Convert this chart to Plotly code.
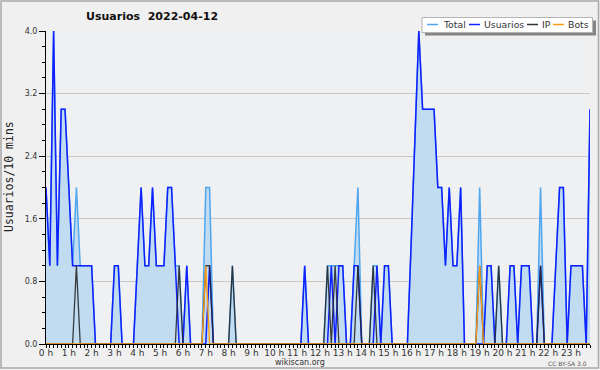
import plotly.graph_objects as go

# ---- data (one value per 10 minutes, 144 slots) ----
usuarios = [2,1,4,1,3,3,2,1,1,1,1,1,1,0,0,0,0,0,1,1,
            0,0,0,0,1,2,1,1,2,1,1,1,2,2,1,0,0,1,0,0,
            0,0,0,1,0,0,0,0,0,0,0,0,0,0,0,0,0,0,0,0,
            0,0,0,0,0,0,0,0,1,0,0,0,0,0,0,1,0,1,1,0,
            0,1,1,0,0,0,0,1,0,1,1,0,0,0,0,0,1.3,2.7,4,3,
            3,3,3,2,2,1,2,1,1,2,0,0,0,0,0,0,1,1,0,0,
            0,0,1,1,0,1,1,1,0,0,1,0,0,0,1,2,2,0,1,1,
            1,1,0,3]
ip = [0]*144
for k in [8,35,42,43,49,74,76,82,86,114,119,130]:
    ip[k] = 1
bots = [0]*144
for k in [42,114]:
    bots[k] = 1
total = [u+a+b for u,a,b in zip(usuarios, ip, bots)]
slots = [i/6 for i in range(144)]           # hours
hour_ticks = list(range(24))
hour_labels = [f"{h} h" for h in hour_ticks]
y_ticks = [0, 0.8, 1.6, 2.4, 3.2, 4.0]

C_TOTAL = "#4ea6ef"
C_USU = "#1020ff"
C_IP = "rgba(40,40,40,0.9)"
C_BOTS = "#ff9a10"
C_FILL = "rgba(190,218,240,0.95)"

fig = go.Figure()
fig.add_trace(go.Scatter(x=slots, y=total, mode="lines", line=dict(color=C_TOTAL, width=1.5),
                         fill="tozeroy", fillcolor=C_FILL, name="Total"))
fig.add_trace(go.Scatter(x=slots, y=usuarios, mode="lines", line=dict(color=C_USU, width=1.5), name="Usuarios"))
fig.add_trace(go.Scatter(x=slots, y=ip, mode="lines", line=dict(color=C_IP, width=1.3), name="IP"))
fig.add_trace(go.Scatter(x=slots, y=bots, mode="lines", line=dict(color=C_BOTS, width=1.3), name="Bots"))

L, R, T, B = 46, 10, 31, 26
W, H = 600, 370
PW, PH = W - L - R, H - T - B
def px(x): return (x - L) / PW
def py(y): return (H - B - y) / PH

shapes = []
# outer border
shapes.append(dict(type="rect", xref="paper", yref="paper", x0=px(1), x1=px(598.5), y0=py(1), y1=py(368),
                   line=dict(color="#a8a8a8", width=1.5), fillcolor="rgba(0,0,0,0)", layer="above"))
# legend shadow + box
shapes.append(dict(type="rect", xref="paper", yref="paper", x0=px(425), x1=px(596), y0=py(20.5), y1=py(35.5),
                   line=dict(width=0), fillcolor="#848484", layer="above"))
shapes.append(dict(type="rect", xref="paper", yref="paper", x0=px(422), x1=px(592.5), y0=py(17.5), y1=py(32.5),
                   line=dict(color="#b4b4b4", width=1), fillcolor="white", layer="above"))
annotations = []
leg = [("Total", C_TOTAL, 427, 441), ("Usuarios", C_USU, 469, 482), ("IP", "#333333", 527, 540), ("Bots", C_BOTS, 553, 566)]
for name, col, lx, tx in leg:
    shapes.append(dict(type="line", xref="paper", yref="paper", x0=px(lx), x1=px(lx + 11), y0=py(24.5), y1=py(24.5),
                       line=dict(color=col, width=1.5), layer="above"))
    annotations.append(dict(text=name, xref="paper", yref="paper", x=px(tx), y=py(24.8), xanchor="left", yanchor="middle",
                            showarrow=False, font=dict(family="DejaVu Sans", size=9.3, color="#333333")))

annotations.append(dict(text="<b>Usuarios&nbsp; 2022-04-12</b>", xref="paper", yref="paper",
                        x=px(84), y=py(16.5), xanchor="left", yanchor="middle", showarrow=False,
                        font=dict(family="DejaVu Sans", size=11, color="#111111")))
annotations.append(dict(text="Usuarios/10 mins", xref="paper", yref="paper", x=px(9), y=py(177), textangle=-90,
                        xanchor="center", yanchor="middle", showarrow=False,
                        font=dict(family="DejaVu Sans Mono", size=11.5, color="#222222")))
annotations.append(dict(text="wikiscan.org", xref="paper", yref="paper", x=px(300), y=py(362.5), xanchor="center",
                        yanchor="middle", showarrow=False, font=dict(family="DejaVu Sans", size=8, color="#333333")))
annotations.append(dict(text="CC BY-SA 3.0", xref="paper", yref="paper", x=px(589), y=py(363), xanchor="right",
                        yanchor="middle", showarrow=False, font=dict(family="DejaVu Sans", size=6, color="#555555")))

fig.update_layout(
    width=W, height=H, margin=dict(l=L, r=R, t=T, b=B),
    paper_bgcolor="#f0f0f0", plot_bgcolor="#eef0f2",
    showlegend=False, shapes=shapes, annotations=annotations,
    xaxis=dict(range=[0, 143/6], tickmode="array", tickvals=hour_ticks, ticktext=hour_labels,
               showgrid=False, zeroline=False, showline=True, linecolor="black", linewidth=1,
               ticks="outside", ticklen=3, tickcolor="black", tickwidth=1, ticklabelstandoff=-3,
               tickfont=dict(family="DejaVu Sans", size=9, color="#333333"),
               minor=dict(tick0=0, dtick=1/6, ticks="outside", ticklen=3, tickcolor="black", showgrid=False)),
    yaxis=dict(range=[0, 4], tickmode="array", tickvals=y_ticks, ticktext=[f"{v:.1f}" for v in y_ticks],
               showgrid=True, gridcolor="#c8c8c8", gridwidth=1, zeroline=False,
               showline=True, linecolor="black", linewidth=1,
               ticks="outside", ticklen=6, tickcolor="black",
               tickfont=dict(family="DejaVu Sans", size=8, color="#333333"),
               minor=dict(tick0=0, dtick=0.2, ticks="outside", ticklen=3, tickcolor="black", showgrid=False)),
)
fig.write_html("out.html")
